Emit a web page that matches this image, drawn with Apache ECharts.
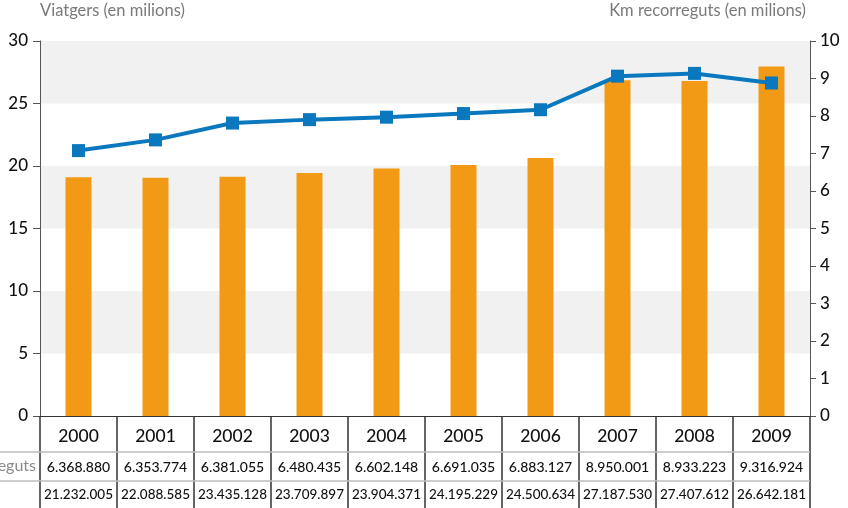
<!DOCTYPE html>
<html>
<head>
<meta charset="utf-8">
<script src="https://cdn.jsdelivr.net/npm/echarts@6/dist/echarts.min.js"></script>
<style>
  html, body { margin: 0; padding: 0; background: #fff; }
  #main { width: 848px; height: 508px; }
</style>
</head>
<body>
<div id="main"></div>
<script>
// dades
var years = ['2000', '2001', '2002', '2003', '2004', '2005', '2006', '2007', '2008', '2009'];
var kmRecorreguts = [6368880, 6353774, 6381055, 6480435, 6602148, 6691035, 6883127, 8950001, 8933223, 9316924];
var viatgers = [21232005, 22088585, 23435128, 23709897, 23904371, 24195229, 24500634, 27187530, 27407612, 26642181];
var leftTicks = [0, 30, 5];   // min, max, interval
var rightTicks = [0, 10, 1];

function fmt(n) {
  // separador de milers amb punt
  return String(n).replace(/\B(?=(\d{3})+(?!\d))/g, '.');
}

var chart = echarts.init(document.getElementById('main'));
var FONT = 'Lato';

var option = {
  animation: false,
  textStyle: { fontFamily: FONT },
  grid: { left: 40, right: 38, top: 41, bottom: 92 },
  xAxis: [
    {
      type: 'category',
      data: years,
      position: 'bottom',
      axisLine: { lineStyle: { color: '#333', width: 1 } },
      axisTick: { show: true, interval: 0, length: 92, lineStyle: { color: '#333', width: 1.5 } },
      axisLabel: { interval: 0, margin: 11, fontSize: 17.5, color: '#111', fontWeight: 500, fontFamily: FONT }
    },
    {
      type: 'category',
      data: kmRecorreguts.map(fmt),
      position: 'bottom',
      offset: 36,
      axisLine: { show: false },
      axisTick: { show: false },
      axisLabel: { interval: 0, margin: 8, fontSize: 14, color: '#111', fontWeight: 500, fontFamily: FONT }
    },
    {
      type: 'category',
      data: viatgers.map(fmt),
      position: 'bottom',
      offset: 65,
      axisLine: { show: false },
      axisTick: { show: false },
      axisLabel: { interval: 0, margin: 7, fontSize: 13.5, color: '#111', fontWeight: 500, fontFamily: FONT }
    }
  ],
  yAxis: [
    {
      type: 'value',
      min: leftTicks[0], max: leftTicks[1], interval: leftTicks[2],
      position: 'left',
      name: 'Viatgers (en milions)',
      nameLocation: 'end',
      nameGap: 22,
      nameTextStyle: { align: 'left', color: '#7a7a7a', fontSize: 16.5, fontFamily: FONT },
      axisLine: { show: true, lineStyle: { color: '#555' } },
      axisTick: { show: true, length: 7, lineStyle: { color: '#555' } },
      axisLabel: { fontSize: 17, color: '#111', fontWeight: 500, margin: 12, fontFamily: FONT },
      splitLine: { show: false },
      splitArea: { show: true, areaStyle: { color: ['#ffffff', '#f0f1f0'] } }
    },
    {
      type: 'value',
      min: rightTicks[0], max: rightTicks[1], interval: rightTicks[2],
      position: 'right',
      name: 'Km recorreguts (en milions)',
      nameLocation: 'end',
      nameGap: 22,
      nameTextStyle: { align: 'right', color: '#7a7a7a', fontSize: 16.5, padding: [0, 4, 0, 0], fontFamily: FONT },
      axisLine: { show: true, lineStyle: { color: '#555' } },
      axisTick: { show: true, length: 6, lineStyle: { color: '#555' } },
      axisLabel: { fontSize: 17, color: '#111', fontWeight: 500, margin: 10, fontFamily: FONT },
      splitLine: { show: false }
    }
  ],
  graphic: [
    { type: 'line', shape: { x1: 0, y1: 452, x2: 810, y2: 452 }, style: { stroke: '#bdbdbd', lineWidth: 1.5 }, z: 1 },
    { type: 'line', shape: { x1: 0, y1: 481, x2: 810, y2: 481 }, style: { stroke: '#bdbdbd', lineWidth: 1.5 }, z: 1 },
    { type: 'text', right: 812, top: 458, style: { text: 'Km recorreguts', fill: '#8a8a8a', font: '16px Lato', textAlign: 'right' } }
  ],
  series: [
    {
      name: 'Km recorreguts',
      type: 'bar',
      yAxisIndex: 1,
      barWidth: 26,
      itemStyle: { color: '#f29a15' },
      data: kmRecorreguts.map(function (v) { return v / 1e6; })
    },
    {
      name: 'Viatgers',
      type: 'line',
      yAxisIndex: 0,
      symbol: 'rect',
      symbolSize: 13,
      showAllSymbol: true,
      lineStyle: { color: '#0a78be', width: 4 },
      itemStyle: { color: '#0a78be' },
      z: 5,
      data: viatgers.map(function (v) { return v / 1e6; })
    }
  ]
};

chart.setOption(option);
</script>
</body>
</html>
